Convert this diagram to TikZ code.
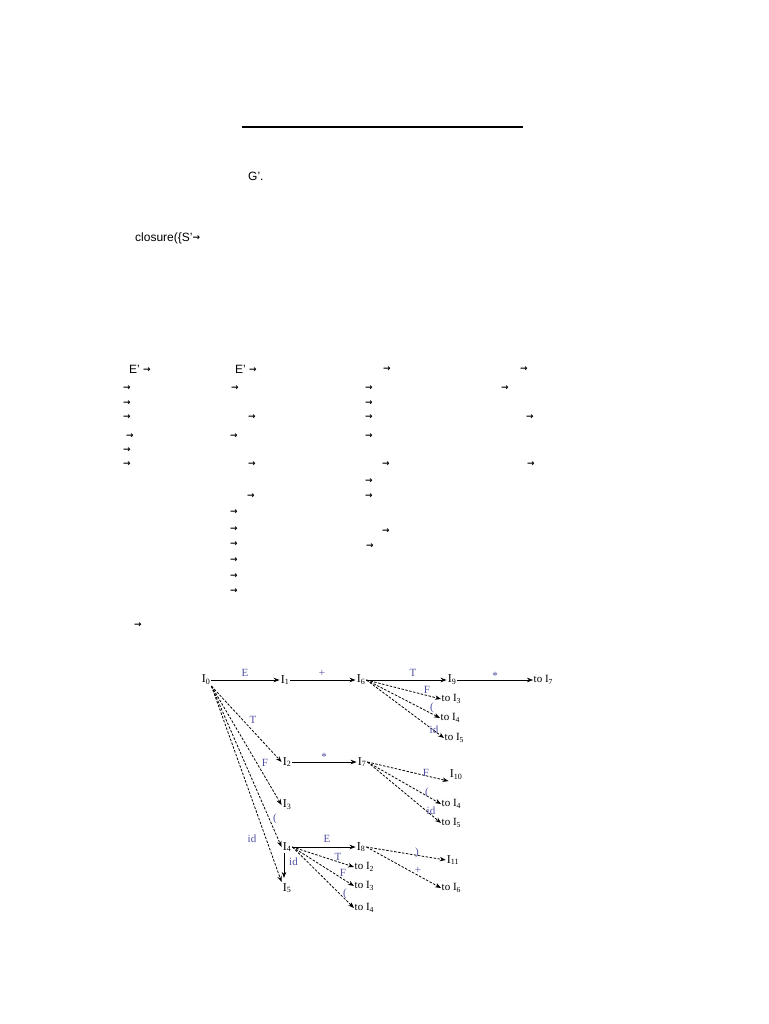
\documentclass[tikz,border=0pt]{standalone}
\usepackage{fontspec}
\setmainfont{Liberation Serif}
\newfontfamily\arialf{Liberation Sans}
\newfontfamily\arrf{DejaVu Sans}
\usetikzlibrary{arrows.meta}
\definecolor{lblue}{RGB}{80,80,165}
\newcommand{\rarr}{{\arrf\bfseries\fontsize{9}{10}\selectfont →}}
\begin{document}
\begin{tikzpicture}[x=1pt,y=-1pt,
  txt/.style={font=\arialf\fontsize{12}{14}\selectfont, inner sep=0pt, anchor=base west},
  arr/.style={inner sep=0pt, anchor=west},
  st/.style={font=\fontsize{12}{14}\selectfont, inner sep=1pt},
  tl/.style={font=\fontsize{11}{13}\selectfont, inner sep=0.5pt, anchor=west},
  lb/.style={font=\fontsize{11}{13}\selectfont, text=lblue, inner sep=0pt},
  sol/.style={line width=0.8pt, -{Stealth[length=6pt,width=4.5pt]}},
  dsh/.style={sol, dash pattern=on 2.5pt off 1.5pt},
]
\fill[white] (0,0) rectangle (768,1024);
\useasboundingbox (0,0) rectangle (768,1024);

% upper text fragments
\draw[line width=1.8pt] (242,127) -- (523,127);
\node[txt] (g) at (248,181) {G’.};
\node[txt] (cl) at (135,241) {closure(\{S’\raisebox{0.5pt}{\rarr}};
\node[txt] (e1) at (129,373) {E’ \raisebox{1pt}{\rarr}};
\node[txt] (e2) at (235,373) {E’ \raisebox{1pt}{\rarr}};
\foreach \x/\y [count=\i] in {
  383/369, 520/369,
  123/388, 231/388, 365/388, 501/388,
  123/403, 365/403,
  123/417, 248/417, 365/417, 526/417,
  126/436, 230/436, 365/436,
  123/450,
  123/464, 248/464, 382/464, 527/464,
  365/481,
  247/496, 365/496,
  230/512,
  230/529, 382/531,
  230/544, 366/546,
  230/560, 230/576, 230/591,
  134/625}
  \node[arr] (a\i) at (\x,\y) {\rarr};

% states
\node[st] (I0) at (206,680) {I\textsubscript{0}};
\node[st] (I1) at (285,680) {I\textsubscript{1}};
\node[st] (I6) at (361,680) {I\textsubscript{6}};
\node[st] (I9) at (452,680) {I\textsubscript{9}};
\node[tl] (t7) at (533,680) {to I\textsubscript{7}};
\node[st] (I2) at (287,762) {I\textsubscript{2}};
\node[st] (I7) at (362,762) {I\textsubscript{7}};
\node[st] (I3) at (287,805) {I\textsubscript{3}};
\node[st] (I4) at (287,847) {I\textsubscript{4}};
\node[st] (I8) at (361,847) {I\textsubscript{8}};
\node[st] (I5) at (287,888) {I\textsubscript{5}};
\node[st] (I10) at (456,775) {I\textsubscript{10}};
\node[st] (I11) at (453,860) {I\textsubscript{11}};

% "to" targets
\node[tl] (s1) at (441,699) {to I\textsubscript{3}};
\node[tl] (s2) at (440,718) {to I\textsubscript{4}};
\node[tl] (s3) at (444,738) {to I\textsubscript{5}};
\node[tl] (s4) at (441,804) {to I\textsubscript{4}};
\node[tl] (s5) at (441,823) {to I\textsubscript{5}};
\node[tl] (s6) at (441,888) {to I\textsubscript{6}};
\node[tl] (s7) at (354,867) {to I\textsubscript{2}};
\node[tl] (s8) at (354,886) {to I\textsubscript{3}};
\node[tl] (s9) at (354,908) {to I\textsubscript{4}};

% solid transitions
\draw[sol] (I0) -- (I1);
\draw[sol] (I1) -- (I6);
\draw[sol] (I6) -- (I9);
\draw[sol, line width=0.5pt] (I9) -- (t7.west);
\draw[sol] (I2) -- (I7);
\draw[sol] (I4) -- (I8);
\draw[sol, shorten >=4pt] ([xshift=-3pt]I4.south) -- ([xshift=-3pt]I5.north);

% dashed fans
\draw[dsh] (I0.south east) -- (I2.west);
\draw[dsh] (I0.south east) -- (I3.west);
\draw[dsh] (I0.south east) -- (I4.west);
\draw[dsh] (I0.south east) -- (I5.north west);
\draw[dsh] (I6.east) -- (s1.west);
\draw[dsh] (I6.east) -- (s2.west);
\draw[dsh] (I6.east) -- (s3.west);
\draw[dsh] (I7.east) -- (I10.south west);
\draw[dsh] (I7.east) -- (s4.west);
\draw[dsh] (I7.east) -- (s5.west);
\draw[dsh] (I8.east) -- (I11.west);
\draw[dsh] (I8.east) -- (s6.west);
\draw[dsh] (I4.east) -- (s7.west);
\draw[dsh] (I4.east) -- (s8.west);
\draw[dsh] (I4.east) -- (s9.west);

% edge labels
\node[lb] (l1) at (245,673) {E};
\node[lb] (l2) at (322,673) {+};
\node[lb] (l3) at (413,673) {T};
\node[lb] (l4) at (495,676) {*};
\node[lb] (l5) at (324,757) {*};
\node[lb] (l6) at (253,720) {T};
\node[lb] (l7) at (265,763) {F};
\node[lb] (l8) at (275,819) {(};
\node[lb] (l9) at (252,839) {id};
\node[lb] (l10) at (427,690) {F};
\node[lb] (l11) at (432,708) {(};
\node[lb] (l12) at (434,730) {id};
\node[lb] (l13) at (426,773) {F};
\node[lb] (l14) at (427,793) {(};
\node[lb] (l15) at (431,811) {id};
\node[lb] (l16) at (417,853) {)};
\node[lb] (l17) at (418,870) {+};
\node[lb] (l18) at (327,839) {E};
\node[lb] (l19) at (338,857) {T};
\node[lb] (l20) at (343,873) {F};
\node[lb] (l21) at (345,894) {(};
\node[lb, anchor=west] (l22) at (289,862) {id};
\end{tikzpicture}
\end{document}
